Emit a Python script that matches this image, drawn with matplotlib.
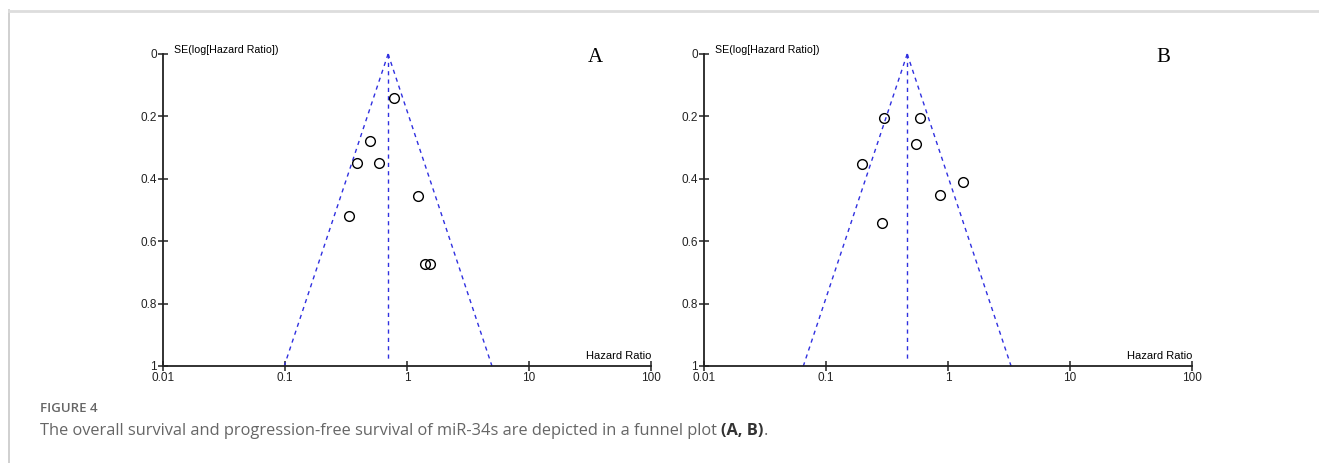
import numpy as np
import matplotlib
matplotlib.use("Agg")
import matplotlib.pyplot as plt
from matplotlib.lines import Line2D

# panel A: overall survival
hr_a = [0.787, 0.494, 0.392, 0.586, 1.22, 0.333, 1.41, 1.55]
se_a = [0.141, 0.278, 0.349, 0.349, 0.454, 0.520, 0.672, 0.672]
pooled_a = 0.70

# panel B: progression-free survival
hr_b = [0.30, 0.594, 0.548, 0.198, 1.32, 0.857, 0.29]
se_b = [0.206, 0.206, 0.289, 0.352, 0.409, 0.452, 0.541]
pooled_b = 0.463

xticks = [0.01, 0.1, 1, 10, 100]
xticklabels = ["0.01", "0.1", "1", "10", "100"]
yticks = [0, 0.2, 0.4, 0.6, 0.8, 1]
yticklabels = ["0", "0.2", "0.4", "0.6", "0.8", "1"]

plt.rcParams['font.family'] = ['Liberation Sans', 'DejaVu Sans']

W, H = 1319, 463
fig = plt.figure(figsize=(W / 100, H / 100), dpi=100)


def funnel(rect, hr, se, pooled, letter, letter_x):
    ax = fig.add_axes(rect)
    ax.set_xscale("log")
    ax.set_xlim(0.01, 100)
    ax.set_ylim(1, 0)
    se_line = np.array([0, 1])
    lo = np.exp(np.log(pooled) - 1.96 * se_line)
    hi = np.exp(np.log(pooled) + 1.96 * se_line)
    ls = dict(color="#3030e0", lw=1.0, ls=(0, (3, 3)), clip_on=False)
    ax.plot(lo, se_line, **ls)
    ax.plot(hi, se_line, **ls)
    ax.plot([pooled, pooled], [0, 0.985], **ls)
    ax.plot(hr, se, "o", ms=7, mfc="none", mec="black", mew=1.0, clip_on=False)
    for s in ["top", "right"]:
        ax.spines[s].set_visible(False)
    for s in ["left", "bottom"]:
        ax.spines[s].set_linewidth(1.3)
        ax.spines[s].set_color("#222222")
    ax.set_xticks(xticks)
    ax.set_xticklabels(xticklabels)
    ax.xaxis.set_minor_locator(matplotlib.ticker.NullLocator())
    ax.set_yticks(yticks)
    ax.set_yticklabels(yticklabels)
    ax.tick_params(direction="inout", length=7, width=1.1, labelsize=8.5,
                   colors="#222222", pad=1)
    ax.text(0.0122, -0.014, "SE(log[Hazard Ratio])", fontsize=7.7,
            va="center", ha="left")
    ax.text(100, 0.985, "Hazard Ratio", fontsize=8, va="bottom", ha="right")
    fig.text(letter_x / W, 1 - 58 / H, letter, fontsize=15,
             family="Liberation Serif", ha="center", va="center")
    return ax


funnel([163 / W, 1 - 366 / H, 488 / W, 312 / H], hr_a, se_a, pooled_a, "A", 595)
funnel([704 / W, 1 - 366 / H, 488 / W, 312 / H], hr_b, se_b, pooled_b, "B", 1163)

# frame lines
fig.add_artist(Line2D([9 / W, 9 / W], [0, 1 - 10 / H], color="#c8c8c8", lw=1.2))
fig.add_artist(Line2D([9 / W, 1], [1 - 10.5 / H, 1 - 10.5 / H], color="#dddddd", lw=2))

cap_font = ['Open Sans', 'DejaVu Sans']
cap_size = 11.8
fig.text(40 / W, 1 - 409 / H, "FIGURE 4", fontsize=9.5, family=cap_font,
         weight="semibold", color="#666666", va="center")
t = fig.text(40 / W, 1 - 431 / H,
             "The overall survival and progression-free survival of miR-34s are depicted in a funnel plot ",
             fontsize=cap_size, family=cap_font, color="#666666", va="center")
fig.canvas.draw()
bb = t.get_window_extent()
t2 = fig.text(bb.x1 / W, 1 - 431 / H, "(A, B)", fontsize=cap_size, family=cap_font,
              weight="bold", color="#333333", va="center")
fig.canvas.draw()
bb2 = t2.get_window_extent()
fig.text(bb2.x1 / W, 1 - 431 / H, ".", fontsize=cap_size, family=cap_font,
         color="#666666", va="center")

fig.savefig("out.png", dpi=100)
